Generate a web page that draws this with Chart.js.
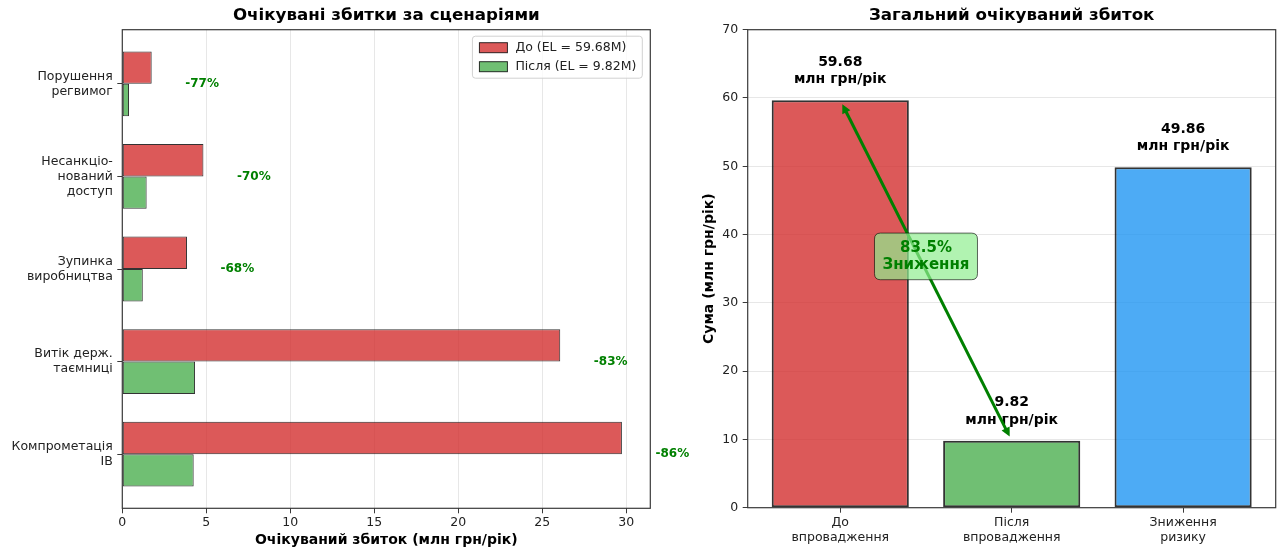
<!DOCTYPE html>
<html lang="uk">
<head>
<meta charset="utf-8">
<title>Очікувані збитки</title>
<script src="https://cdn.jsdelivr.net/npm/chart.js@4.4.1/dist/chart.umd.min.js"></script>
<style>
  html, body { margin: 0; padding: 0; background: #fff; }
  #wrap { position: relative; width: 1280px; height: 551px; overflow: hidden; background: #fff; }
  canvas { position: absolute; top: 0; }
  #lossChart { left: 0; }
  #totalChart { left: 690px; }
</style>
</head>
<body>
<div id="wrap">
  <canvas id="lossChart" width="700" height="551"></canvas>
  <canvas id="totalChart" width="590" height="551"></canvas>
</div>
<script>
// Scenarios, listed top to bottom
const scenarioLabels = [
  ['Порушення', 'регвимог'],
  ['Несанкціо-', 'нований', 'доступ'],
  ['Зупинка', 'виробництва'],
  ['Витік держ.', 'таємниці'],
  ['Компрометація', 'ІВ']
];
// Expected loss per scenario, млн грн/рік
const lossBefore = [1.75, 4.83, 3.85, 26.07, 29.74];
const lossAfter  = [0.40, 1.45, 1.22, 4.33, 4.25];
const lossTickStep = 5;

// Totals, млн грн/рік
const totalLabels = [['До', 'впровадження'], ['Після', 'впровадження'], ['Зниження', 'ризику']];
const totalValues = [59.68, 9.82, 49.86];
const totalTickStep = 10;

const FONT = "'DejaVu Sans', 'Liberation Sans', sans-serif";
const RED = 'rgba(211,47,47,0.8)';
const GREEN = 'rgba(76,175,80,0.8)';
const BLUE = 'rgba(33,150,243,0.8)';
const EDGE = 'rgba(0,0,0,0.8)';
const INK = '#222';
const GRID = 'rgba(176,176,176,0.3)';
const SPINE = '#3a3a3a';
const TICK_FONT = { size: 12.5, lineHeight: 1.2 };

Chart.defaults.font.family = FONT;
Chart.defaults.color = INK;
Chart.defaults.animation = false;

// Box around the plotting area
const frame = {
  id: 'frame',
  afterDatasetsDraw(chart) {
    const { ctx, chartArea: a } = chart;
    ctx.save();
    ctx.strokeStyle = SPINE;
    ctx.lineWidth = 1.2;
    ctx.strokeRect(a.left, a.top, a.right - a.left, a.bottom - a.top);
    ctx.restore();
  }
};

// Title centred over the plotting area
const axesTitle = {
  id: 'axesTitle',
  afterDraw(chart, args, opts) {
    const { ctx, chartArea: a } = chart;
    ctx.save();
    ctx.font = `bold 16.7px ${FONT}`;
    ctx.fillStyle = '#000';
    ctx.textAlign = 'center';
    ctx.textBaseline = 'middle';
    ctx.fillText(opts.text, (a.left + a.right) / 2, a.top - 13.7);
    ctx.restore();
  }
};

// Percentage reduction next to each scenario
const reductionLabels = {
  id: 'reductionLabels',
  afterDatasetsDraw(chart) {
    const { ctx, scales: { x, y } } = chart;
    ctx.save();
    ctx.font = `bold 12px ${FONT}`;
    ctx.fillStyle = 'green';
    ctx.textAlign = 'center';
    ctx.textBaseline = 'middle';
    lossBefore.forEach((b, i) => {
      const pct = Math.round((1 - lossAfter[i] / b) * 100);
      ctx.fillText(`-${pct}%`, x.getPixelForValue(b + 3), y.getPixelForValue(i));
    });
    ctx.restore();
  }
};

function roundedRect(ctx, x, y, w, h, r) {
  ctx.beginPath();
  ctx.moveTo(x + r, y);
  ctx.lineTo(x + w - r, y);
  ctx.quadraticCurveTo(x + w, y, x + w, y + r);
  ctx.lineTo(x + w, y + h - r);
  ctx.quadraticCurveTo(x + w, y + h, x + w - r, y + h);
  ctx.lineTo(x + r, y + h);
  ctx.quadraticCurveTo(x, y + h, x, y + h - r);
  ctx.lineTo(x, y + r);
  ctx.quadraticCurveTo(x, y, x + r, y);
  ctx.closePath();
}

// Legend framed in the upper-right corner of the plot
const legendBox = {
  id: 'legendBox',
  afterDatasetsDraw(chart) {
    const { ctx, chartArea: a } = chart;
    const sets = chart.data.datasets;
    ctx.save();
    ctx.font = `12.5px ${FONT}`;
    const textW = Math.max(...sets.map(d => ctx.measureText(d.label).width));
    const padL = 7, patchW = 28, patchH = 10, gap = 8, padR = 6, rowH = 19, padT = 11.5;
    const w = padL + patchW + gap + textW + padR;
    const h = 42;
    const x0 = a.right - 8 - w, y0 = a.top + 6.5;
    roundedRect(ctx, x0, y0, w, h, 3);
    ctx.fillStyle = 'rgba(255,255,255,0.8)';
    ctx.fill();
    ctx.strokeStyle = 'rgba(204,204,204,0.9)';
    ctx.lineWidth = 1;
    ctx.stroke();
    sets.forEach((d, i) => {
      const cy = y0 + padT + i * rowH;
      ctx.fillStyle = d.backgroundColor;
      ctx.fillRect(x0 + padL, cy - patchH / 2, patchW, patchH);
      ctx.strokeStyle = d.borderColor;
      ctx.lineWidth = 1;
      ctx.strokeRect(x0 + padL, cy - patchH / 2, patchW, patchH);
      ctx.fillStyle = INK;
      ctx.textAlign = 'left';
      ctx.textBaseline = 'middle';
      ctx.fillText(d.label, x0 + padL + patchW + gap, cy);
    });
    ctx.restore();
  }
};

new Chart(document.getElementById('lossChart'), {
  type: 'bar',
  data: {
    datasets: [
      {
        label: `До (EL = ${totalValues[0].toFixed(2)}M)`,
        data: lossBefore.map((v, i) => ({ x: v, y: i })),
        backgroundColor: RED, borderColor: EDGE, borderWidth: 1, borderSkipped: false
      },
      {
        label: `Після (EL = ${totalValues[1].toFixed(2)}M)`,
        data: lossAfter.map((v, i) => ({ x: v, y: i })),
        backgroundColor: GREEN, borderColor: EDGE, borderWidth: 1, borderSkipped: false
      }
    ]
  },
  options: {
    responsive: false,
    animation: false,
    indexAxis: 'y',
    layout: { padding: { top: 29.7, right: 49.7, left: 0, bottom: 0 } },
    datasets: { bar: { categoryPercentage: 0.7, barPercentage: 1.0 } },
    scales: {
      x: {
        type: 'linear', position: 'bottom', min: 0, max: 31.43,
        ticks: { stepSize: lossTickStep, includeBounds: false, font: TICK_FONT, color: INK, padding: 2 },
        grid: { color: GRID, tickColor: SPINE, tickLength: 5 },
        border: { display: false },
        title: {
          display: true, text: 'Очікуваний збиток (млн грн/рік)',
          font: { size: 14, weight: 'bold' }, color: '#000', padding: { top: 2, bottom: 2 }
        },
        afterFit: s => { s.height = 42.7; }
      },
      y: {
        type: 'linear', position: 'left', offset: false,
        min: -0.585, max: scenarioLabels.length - 1 + 0.585, reverse: true,
        afterBuildTicks: s => { s.ticks = scenarioLabels.map((_, i) => ({ value: i })); },
        ticks: {
          autoSkip: false, callback: v => scenarioLabels[v],
          font: TICK_FONT, color: INK, padding: 4.5
        },
        grid: { offset: false, drawOnChartArea: false, tickColor: SPINE, tickLength: 5 },
        border: { display: false },
        afterFit: s => { s.width = 122.3; }
      }
    },
    plugins: {
      legend: { display: false },
      tooltip: { enabled: false },
      title: { display: false },
      axesTitle: { text: 'Очікувані збитки за сценаріями' }
    }
  },
  plugins: [frame, axesTitle, reductionLabels, legendBox]
});

// Value labels, reduction arrow and its callout on the totals chart
const totalAnnotations = {
  id: 'totalAnnotations',
  afterDatasetsDraw(chart) {
    const { ctx, scales: { x, y } } = chart;
    ctx.save();

    ctx.font = `bold 14px ${FONT}`;
    ctx.fillStyle = '#000';
    ctx.textAlign = 'center';
    ctx.textBaseline = 'middle';
    totalValues.forEach((v, i) => {
      const cx = x.getPixelForValue(i);
      const bottom = y.getPixelForValue(v + 2);
      ctx.fillText('млн грн/рік', cx, bottom - 6.8);
      ctx.fillText(v.toFixed(2), cx, bottom - 24.5);
    });

    // double-headed arrow from the "before" total to the "after" total
    const ax = x.getPixelForValue(0), ay = y.getPixelForValue(totalValues[0]);
    const bx = x.getPixelForValue(1), by = y.getPixelForValue(totalValues[1]);
    const len = Math.hypot(bx - ax, by - ay);
    const ux = (bx - ax) / len, uy = (by - ay) / len;
    const shrink = 4.5, headL = 9, headW = 4.5;
    const sx = ax + ux * shrink, sy = ay + uy * shrink;
    const ex = bx - ux * shrink, ey = by - uy * shrink;
    ctx.strokeStyle = 'green';
    ctx.fillStyle = 'green';
    ctx.lineWidth = 3;
    ctx.beginPath();
    ctx.moveTo(sx + ux * headL * 0.6, sy + uy * headL * 0.6);
    ctx.lineTo(ex - ux * headL * 0.6, ey - uy * headL * 0.6);
    ctx.stroke();
    const head = (tx, ty, dx, dy) => {
      ctx.beginPath();
      ctx.moveTo(tx, ty);
      ctx.lineTo(tx - dx * headL - dy * headW, ty - dy * headL + dx * headW);
      ctx.lineTo(tx - dx * headL + dy * headW, ty - dy * headL - dx * headW);
      ctx.closePath();
      ctx.fill();
    };
    head(sx, sy, -ux, -uy);
    head(ex, ey, ux, uy);

    // callout with the overall reduction
    const pct = ((totalValues[0] - totalValues[1]) / totalValues[0] * 100).toFixed(1);
    const lines = [`${pct}%`, 'Зниження'];
    ctx.font = `bold 15px ${FONT}`;
    const tw = Math.max(...lines.map(t => ctx.measureText(t).width));
    const cx = x.getPixelForValue(0.5), cy = y.getPixelForValue(36.8);
    const bw = tw + 16, bh = 46.6;
    roundedRect(ctx, cx - bw / 2, cy - bh / 2, bw, bh, 6);
    ctx.fillStyle = 'rgba(144,238,144,0.7)';
    ctx.fill();
    ctx.strokeStyle = 'rgba(0,0,0,0.6)';
    ctx.lineWidth = 1;
    ctx.stroke();
    ctx.fillStyle = 'green';
    ctx.textAlign = 'center';
    ctx.textBaseline = 'middle';
    ctx.fillText(lines[0], cx, cy - 8.3);
    ctx.fillText(lines[1], cx, cy + 8.3);

    ctx.restore();
  }
};

new Chart(document.getElementById('totalChart'), {
  type: 'bar',
  data: {
    datasets: [{
      data: totalValues.map((v, i) => ({ x: i, y: v })),
      backgroundColor: [RED, GREEN, BLUE],
      borderColor: EDGE, borderWidth: 2, borderSkipped: false
    }]
  },
  options: {
    responsive: false,
    animation: false,
    layout: { padding: { top: 29.7, right: 4.3, left: 0, bottom: 0 } },
    datasets: { bar: { categoryPercentage: 0.8, barPercentage: 1.0 } },
    scales: {
      x: {
        type: 'linear', position: 'bottom', offset: false,
        min: -0.54, max: totalLabels.length - 1 + 0.54,
        afterBuildTicks: s => { s.ticks = totalLabels.map((_, i) => ({ value: i })); },
        ticks: {
          autoSkip: false, maxRotation: 0, callback: v => totalLabels[v],
          font: TICK_FONT, color: INK, padding: 3
        },
        grid: { offset: false, drawOnChartArea: false, tickColor: SPINE, tickLength: 5 },
        border: { display: false },
        afterFit: s => { s.height = 43.3; }
      },
      y: {
        type: 'linear', position: 'left', min: 0, max: 70,
        ticks: { stepSize: totalTickStep, font: TICK_FONT, color: INK, padding: 4.5 },
        grid: { color: GRID, tickColor: SPINE, tickLength: 5 },
        border: { display: false },
        title: {
          display: true, text: 'Сума (млн грн/рік)',
          font: { size: 14, weight: 'bold' }, color: '#000', padding: { top: 11, bottom: 0 }
        },
        afterFit: s => { s.width = 57.7; }
      }
    },
    plugins: {
      legend: { display: false },
      tooltip: { enabled: false },
      title: { display: false },
      axesTitle: { text: 'Загальний очікуваний збиток' }
    }
  },
  plugins: [frame, axesTitle, totalAnnotations]
});
</script>
</body>
</html>
